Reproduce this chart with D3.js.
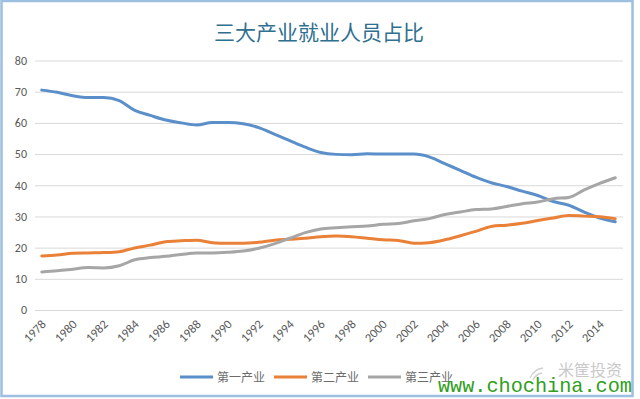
<!DOCTYPE html>
<html>
<head>
<meta charset="utf-8">
<script src="https://cdn.jsdelivr.net/npm/d3@7/dist/d3.min.js"></script>
<style>
  body { margin: 0; background: #fff; }
  svg { display: block; font-family: "Noto Sans CJK SC", "Microsoft YaHei", sans-serif; }
</style>
</head>
<body>
<svg id="chart" width="640" height="399"></svg>
<script>
var years = d3.range(1978, 2016);
var labelYears = d3.range(1978, 2015, 2);
var yTicks = [0, 10, 20, 30, 40, 50, 60, 70, 80];

var primary = [70.5, 69.8, 68.7, 68.1, 68.1, 67.1, 64.0, 62.4, 60.9, 60.0,
  59.3, 60.1, 60.1, 59.7, 58.5, 56.4, 54.3, 52.2, 50.5, 49.9,
  49.8, 50.1, 50.0, 50.0, 50.0, 49.1, 46.9, 44.8, 42.6, 40.8,
  39.6, 38.1, 36.7, 34.8, 33.6, 31.4, 29.5, 28.3];
var secondary = [17.3, 17.6, 18.2, 18.3, 18.4, 18.7, 19.9, 20.8, 21.9, 22.2,
  22.4, 21.6, 21.4, 21.4, 21.7, 22.4, 22.7, 23.0, 23.5, 23.7,
  23.5, 23.0, 22.5, 22.3, 21.4, 21.6, 22.5, 23.8, 25.2, 26.8,
  27.2, 27.8, 28.7, 29.5, 30.3, 30.1, 29.9, 29.3];
var tertiary = [12.2, 12.6, 13.1, 13.6, 13.5, 14.2, 16.1, 16.8, 17.2, 17.8,
  18.3, 18.3, 18.5, 18.9, 19.8, 21.2, 23.0, 24.8, 26.0, 26.4,
  26.7, 26.9, 27.5, 27.7, 28.6, 29.3, 30.6, 31.4, 32.2, 32.4,
  33.2, 34.1, 34.6, 35.7, 36.1, 38.5, 40.6, 42.4];

var seriesNames = ["第一产业", "第二产业", "第三产业"];
var seriesColors = ["#5b8fc9", "#ea8139", "#a6a6a6"];
var seriesData = [primary, secondary, tertiary];

var svg = d3.select("#chart");

// frame
svg.append("rect")
  .attr("x", 1.5).attr("y", 1).attr("width", 631).attr("height", 395)
  .attr("fill", "#fff").attr("stroke", "#9dbfe0").attr("stroke-width", 2.5);

svg.append("text")
  .attr("x", 319).attr("y", 40)
  .attr("text-anchor", "middle")
  .attr("font-size", 21)
  .attr("fill", "#2f6f8f")
  .text("三大产业就业人员占比");

var x = d3.scaleBand().domain(years).range([34, 623]);
var y = d3.scaleLinear().domain([0, 80]).range([310, 60.5]);
var cx = function (yr) { return x(yr) + x.bandwidth() / 2; };

// gridlines + y labels
svg.append("g")
  .attr("transform", "translate(35,0)")
  .call(d3.axisLeft(y).tickValues(yTicks).tickSize(-588).tickPadding(8))
  .call(function (g) {
    g.select(".domain").remove();
    g.selectAll(".tick line").attr("stroke", "#d9d9d9").attr("stroke-width", 1);
    g.selectAll(".tick text").attr("fill", "#595959").attr("font-size", 12)
      .attr("font-family", "Calibri, 'Liberation Sans', Arial, sans-serif");
  });

// x labels, rotated
svg.append("g")
  .selectAll("text")
  .data(labelYears)
  .join("text")
  .attr("transform", function (d) { return "translate(" + (cx(d) + 5) + ",325) rotate(-45)"; })
  .attr("text-anchor", "end")
  .attr("font-size", 12.5)
  .attr("font-family", "Calibri, 'Liberation Sans', Arial, sans-serif")
  .attr("fill", "#595959")
  .text(function (d) { return d; });

var line = d3.line()
  .x(function (d, i) { return cx(years[i]); })
  .y(function (d) { return y(d); })
  .curve(d3.curveMonotoneX);

svg.append("g")
  .selectAll("path")
  .data(seriesData)
  .join("path")
  .attr("d", line)
  .attr("fill", "none")
  .attr("stroke", function (d, i) { return seriesColors[i]; })
  .attr("stroke-width", 3)
  .attr("stroke-linejoin", "round")
  .attr("stroke-linecap", "round");

// legend
var legX = d3.scalePoint().domain(seriesNames).range([180, 368]);
var leg = svg.append("g")
  .selectAll("g")
  .data(seriesNames)
  .join("g")
  .attr("transform", function (d) { return "translate(" + legX(d) + ",377)"; });
leg.append("line")
  .attr("x1", 0).attr("x2", 33)
  .attr("stroke", function (d, i) { return seriesColors[i]; })
  .attr("stroke-width", 3);
leg.append("text")
  .attr("x", 37).attr("y", 4.5)
  .attr("font-size", 12)
  .attr("fill", "#6b6b6b")
  .text(function (d) { return d; });

// watermarks
svg.append("path")
  .attr("d", "M530,378 q4,-9 13,-10 M533,380 q3,-6 9,-7")
  .attr("fill", "none").attr("stroke", "#cfcfcf").attr("stroke-width", 1.3);
svg.append("text")
  .attr("x", 558).attr("y", 376)
  .attr("font-size", 16)
  .attr("fill", "#c9c9c9")
  .text("米筐投资");
svg.append("text")
  .attr("x", 438).attr("y", 392)
  .attr("font-size", 21)
  .attr("font-family", "'Liberation Mono', 'DejaVu Sans Mono', monospace")
  .attr("textLength", 194)
  .attr("lengthAdjust", "spacingAndGlyphs")
  .attr("fill", "#2f9f1c")
  .text("www.chochina.com");
</script>
</body>
</html>
